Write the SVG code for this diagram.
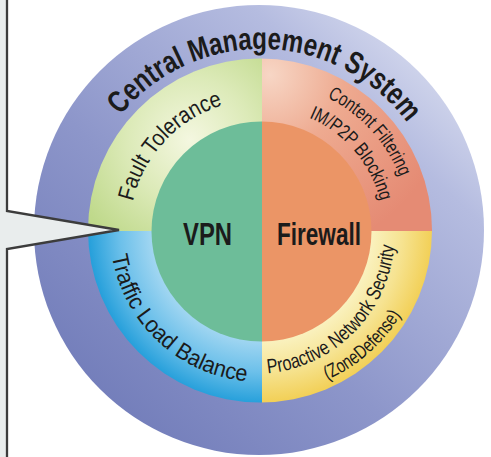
<svg xmlns="http://www.w3.org/2000/svg" width="491" height="457" viewBox="0 0 491 457">
<style>
.lbl{font-family:"Liberation Sans Narrow","Liberation Sans",Arial,sans-serif;fill:#1b1b1b}
.bold{font-weight:bold}
.frame{stroke:#3c3c3c;stroke-width:2.3;fill:none}
</style>
<defs>
<linearGradient id="gOuter" gradientUnits="userSpaceOnUse" x1="440" y1="40" x2="80" y2="420">
<stop offset="0" stop-color="#dadef0"/><stop offset="0.2" stop-color="#b5bce0"/><stop offset="0.6" stop-color="#8d96ca"/><stop offset="1" stop-color="#6f7ab8"/>
</linearGradient>
<radialGradient id="gFault" gradientUnits="userSpaceOnUse" cx="190" cy="140" r="125">
<stop offset="0" stop-color="#f4f7e0"/><stop offset="0.5" stop-color="#dceab8"/><stop offset="1" stop-color="#bfd98b"/>
</radialGradient>
<radialGradient id="gContent" gradientUnits="userSpaceOnUse" cx="270" cy="75" r="185">
<stop offset="0" stop-color="#f7d6c5"/><stop offset="0.4" stop-color="#eeaa90"/><stop offset="1" stop-color="#e58b74"/>
</radialGradient>
<radialGradient id="gTraffic" gradientUnits="userSpaceOnUse" cx="261" cy="231" r="172">
<stop offset="0.62" stop-color="#a6d8f2"/><stop offset="0.82" stop-color="#6cc0ea"/><stop offset="1" stop-color="#27a0db"/>
</radialGradient>
<radialGradient id="gProactive" gradientUnits="userSpaceOnUse" cx="261" cy="231" r="172">
<stop offset="0.62" stop-color="#faf3c4"/><stop offset="0.82" stop-color="#f6e391"/><stop offset="1" stop-color="#f2cf55"/>
</radialGradient>
<clipPath id="cMid"><circle cx="260" cy="230.5" r="172"/></clipPath>
<clipPath id="cIn"><circle cx="261.5" cy="231.5" r="110"/></clipPath>
<path id="pCentral" d="M120.6 115.2 A182 182 0 0 1 415.3 134.6"/>
<path id="pFault" d="M132.9 201.4 A131.5 131.5 0 0 1 238.2 101.5"/>
<path id="pTraffic" d="M112 255.7 A151 151 0 0 0 261 382"/>
<path id="pContent" d="M327.2 97.5 A149 149 0 0 1 404.9 192.4"/>
<path id="pIM" d="M309.1 117.8 A123 123 0 0 1 382.8 213.9"/>
<path id="pProactive" d="M267.9 373.3 A140 140 0 0 0 394.3 245"/>
<path id="pZone" d="M327.3 379.9 A163 163 0 0 0 408.7 299.9"/>
</defs>

<g id="left-panel">
<rect x="0" y="0" width="7" height="457" fill="#e9eded"/>
</g>

<g id="central-management-system">
<circle cx="259" cy="230" r="225" fill="url(#gOuter)"/>
<text class="lbl bold" font-size="31"><textPath href="#pCentral" textLength="330" lengthAdjust="spacingAndGlyphs">Central Management System</textPath></text>
</g>

<g id="fault-tolerance">
<rect x="60" y="40" width="202" height="191" fill="url(#gFault)" clip-path="url(#cMid)"/>
<text class="lbl" font-size="23"><textPath href="#pFault" textLength="137.7" lengthAdjust="spacingAndGlyphs">Fault Tolerance</textPath></text>
</g>

<g id="content-filtering">
<rect x="262" y="40" width="200" height="191" fill="url(#gContent)" clip-path="url(#cMid)"/>
<text class="lbl" font-size="19.5"><textPath href="#pContent" textLength="110" lengthAdjust="spacingAndGlyphs">Content Filtering</textPath></text>
<text class="lbl" font-size="19.5"><textPath href="#pIM" textLength="113.5" lengthAdjust="spacingAndGlyphs">IM/P2P Blocking</textPath></text>
</g>

<g id="traffic-load-balance">
<rect x="60" y="231" width="202" height="200" fill="url(#gTraffic)" clip-path="url(#cMid)"/>
<text class="lbl" font-size="23"><textPath href="#pTraffic" textLength="197.7" lengthAdjust="spacingAndGlyphs">Traffic Load Balance</textPath></text>
</g>

<g id="proactive-network-security">
<rect x="262" y="231" width="200" height="200" fill="url(#gProactive)" clip-path="url(#cMid)"/>
<text class="lbl" font-size="20.5"><textPath href="#pProactive" textLength="195" lengthAdjust="spacingAndGlyphs">Proactive Network Security</textPath></text>
<text class="lbl" font-size="19.5"><textPath href="#pZone" textLength="99.6" lengthAdjust="spacingAndGlyphs">(ZoneDefense)</textPath></text>
</g>

<g id="vpn">
<rect x="150" y="120" width="112" height="225" fill="#6dbd99" clip-path="url(#cIn)"/>
<text class="lbl bold" font-size="32" x="183" y="245" textLength="49" lengthAdjust="spacingAndGlyphs">VPN</text>
</g>

<g id="firewall">
<rect x="262" y="120" width="112" height="225" fill="#eb9566" clip-path="url(#cIn)"/>
<text class="lbl bold" font-size="32" x="277" y="245" textLength="84" lengthAdjust="spacingAndGlyphs">Firewall</text>
</g>

<g id="connectors">
<polygon points="5,211 119,230 5,249" fill="#e9eded"/>
<polyline class="frame" points="7,0 7,211 119,230 7,249 7,457"/>
</g>
</svg>
